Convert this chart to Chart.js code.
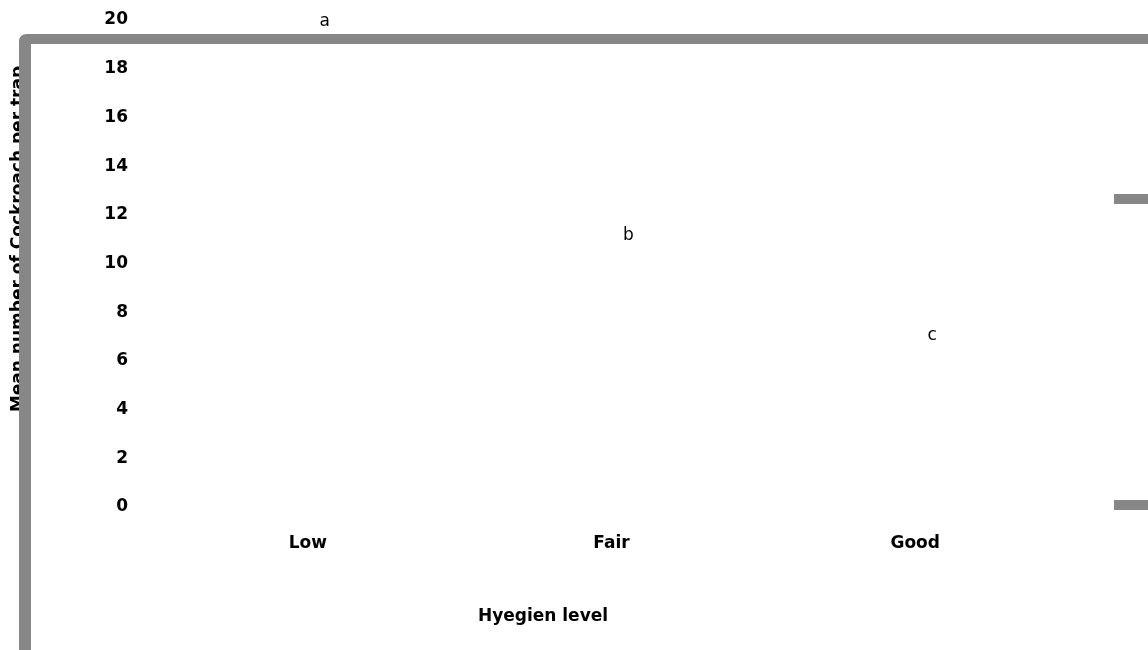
<!DOCTYPE html>
<html>
<head>
<meta charset="utf-8">
<script src="https://cdn.jsdelivr.net/npm/chart.js@4/dist/chart.umd.min.js"></script>
<style>
  html, body { margin: 0; padding: 0; background: #fff; }
  #wrap { width: 1148px; height: 650px; position: relative; }
</style>
</head>
<body>
<div id="wrap"><canvas id="chart"></canvas></div>
<script>
const categories = ['Low', 'Fair', 'Good'];
const meanCockroach = [19.5, 10.7, 6.6];
const sigLetters = ['a', 'b', 'c'];
const yTitle = 'Mean number of Cockroach per trap';
const xTitle = 'Hyegien level';

const frameGray = '#878787';
const boldFont = { family: 'DejaVu Sans', size: 17, weight: 'bold' };

// letters above bars + axis titles + grey frame
const extras = {
  id: 'extras',
  afterDatasetsDraw(chart) {
    const ctx = chart.ctx;
    const meta = chart.getDatasetMeta(0);
    ctx.save();
    ctx.fillStyle = '#000';
    ctx.font = '17px "DejaVu Sans"';
    ctx.textAlign = 'center';
    ctx.textBaseline = 'middle';
    meta.data.forEach((bar, i) => {
      ctx.fillText(sigLetters[i], bar.x + 17, bar.y - 11);
    });
    ctx.restore();
  },
  afterDraw(chart) {
    const ctx = chart.ctx;
    const area = chart.chartArea;
    ctx.save();
    ctx.fillStyle = '#000';
    ctx.font = 'bold 17px "DejaVu Sans"';
    ctx.textAlign = 'center';
    ctx.textBaseline = 'middle';
    ctx.fillText(xTitle, area.left + 387, 617);
    ctx.translate(19, 239);
    ctx.rotate(-Math.PI / 2);
    ctx.fillText(yTitle, 0, 0);
    ctx.restore();

    // frame
    ctx.save();
    ctx.fillStyle = frameGray;
    ctx.beginPath();
    ctx.moveTo(19, 650);
    ctx.lineTo(19, 42);
    ctx.quadraticCurveTo(19, 34, 27, 34);
    ctx.lineTo(1148, 34);
    ctx.lineTo(1148, 44);
    ctx.lineTo(31, 44);
    ctx.lineTo(31, 650);
    ctx.closePath();
    ctx.fill();
    ctx.fillRect(1114, 194, 34, 10);
    ctx.fillRect(1114, 500, 34, 10);
    ctx.restore();
  }
};

new Chart(document.getElementById('chart'), {
  type: 'bar',
  data: {
    labels: categories,
    datasets: [{
      label: 'Mean',
      data: meanCockroach,
      backgroundColor: 'rgba(255,255,255,0)',
      borderWidth: 0
    }]
  },
  options: {
    responsive: true,
    maintainAspectRatio: false,
    animation: false,
    layout: { padding: { top: 20, right: 81, left: 0, bottom: 0 } },
    plugins: {
      legend: { display: false },
      tooltip: { enabled: false }
    },
    scales: {
      x: {
        grid: { display: false, drawTicks: false },
        border: { display: false },
        ticks: { color: '#000', font: boldFont, padding: 26 },
        afterFit: s => { s.height = 143; }
      },
      y: {
        min: 0,
        max: 20,
        grid: { display: false, drawTicks: false },
        border: { display: false },
        ticks: { stepSize: 2, color: '#000', font: boldFont, padding: 28 },
        afterFit: s => { s.width = 156; s.paddingTop = 0; s.paddingBottom = 0; }
      }
    }
  },
  plugins: [extras]
});
</script>
</body>
</html>
